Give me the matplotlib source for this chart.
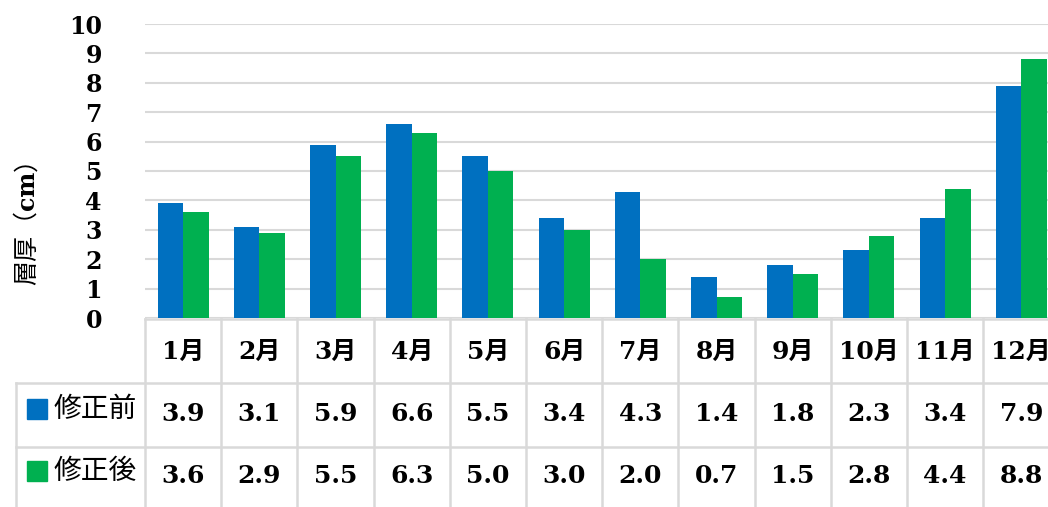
import matplotlib
matplotlib.use('Agg')
import matplotlib.pyplot as plt
from matplotlib.patches import Rectangle
import numpy as np

months = ['1月', '2月', '3月', '4月', '5月', '6月', '7月', '8月', '9月', '10月', '11月', '12月']
series_names = ['修正前', '修正後']
before = [3.9, 3.1, 5.9, 6.6, 5.5, 3.4, 4.3, 1.4, 1.8, 2.3, 3.4, 7.9]
after = [3.6, 2.9, 5.5, 6.3, 5.0, 3.0, 2.0, 0.7, 1.5, 2.8, 4.4, 8.8]
colors = ['#0070C0', '#00B050']
grid_c = '#D9D9D9'

W, H = 1048, 507
fig = plt.figure(figsize=(W / 100, H / 100), dpi=100)
# plot area in pixels: left 145, bottom 318 (value 0), top 24 (value 10)
ax_l, ax_b, ax_t, col_w = 145, 318, 24, 76.2
ax = fig.add_axes([ax_l / W, (H - ax_b) / H, 12 * col_w / W, (ax_b - ax_t) / H])
ax_h = ax_b - ax_t

x = np.arange(len(months))
w = 0.335
ax.bar(x - w / 2, before, w, color=colors[0], zorder=3)
ax.bar(x + w / 2, after, w, color=colors[1], zorder=3)

ax.set_xlim(-0.5, len(months) - 0.5)
ax.set_ylim(0, 10)
ax.set_yticks(range(0, 11))
ax.set_xticks([])
ax.grid(axis='y', color=grid_c, lw=1.5, zorder=0)
for s in ax.spines.values():
    s.set_visible(False)
ax.tick_params(axis='y', length=0, pad=31)
for lab in ax.get_yticklabels():
    lab.set_fontfamily('DejaVu Serif')
    lab.set_fontweight('bold')
    lab.set_fontsize(17)

# y axis title: 層厚（ regular CJK, cm bold serif, ） CJK -- chained upward
cjk = ['Noto Sans CJK JP', 'DejaVu Sans']
renderer = fig.canvas.get_renderer()
parts = [('層厚（', dict(family=cjk, fontsize=18)),
         ('cm', dict(family='DejaVu Serif', fontweight='bold', fontsize=17)),
         ('）', dict(family=cjk, fontsize=18))]
ybase = H - 285
for s, kw in parts:
    t = fig.text(27 / W, ybase / H, s, rotation=90, ha='center', va='bottom', **kw)
    ybase = t.get_window_extent(renderer).y1

# data table below the plot
def fy(px):
    # pixel row -> axes fraction
    return (ax_b - px) / ax_h

trans = ax.get_xaxis_transform()
rows = [319, 383, 447, 507]
left_px = 16
left_x = -0.5 - (ax_l - left_px) / col_w
bottom = fy(H + 5)
lk = dict(color=grid_c, lw=1.8, transform=trans, clip_on=False)
ax.plot([-0.5, 11.5], [fy(rows[0])] * 2, **lk)
for r in rows[1:3]:
    ax.plot([left_x, 11.5], [fy(r)] * 2, **lk)
for i in range(len(months) + 1):
    ax.plot([i - 0.5, i - 0.5], [fy(rows[0]), bottom], **lk)
ax.plot([left_x, left_x], [fy(rows[1]), bottom], **lk)

num_font = dict(family=['DejaVu Serif', 'Noto Sans CJK JP'], fontweight='bold', fontsize=18)
for i, m in enumerate(months):
    ax.text(i, fy(352), m, ha='center', va='center', transform=trans, **num_font)
    ax.text(i, fy(414), f'{before[i]:.1f}', ha='center', va='center', transform=trans, **num_font)
    ax.text(i, fy(476), f'{after[i]:.1f}', ha='center', va='center', transform=trans, **num_font)

for k, (name, c) in enumerate(zip(series_names, colors)):
    yc = 409 + k * 62
    fig.patches.append(Rectangle((27 / W, (H - yc - 10) / H), 20 / W, 20 / H,
                                 transform=fig.transFigure, color=c))
    fig.text(53 / W, (H - yc) / H, name, family=cjk,
             fontsize=20, va='center', ha='left')

fig.savefig('out.png', dpi=100)
